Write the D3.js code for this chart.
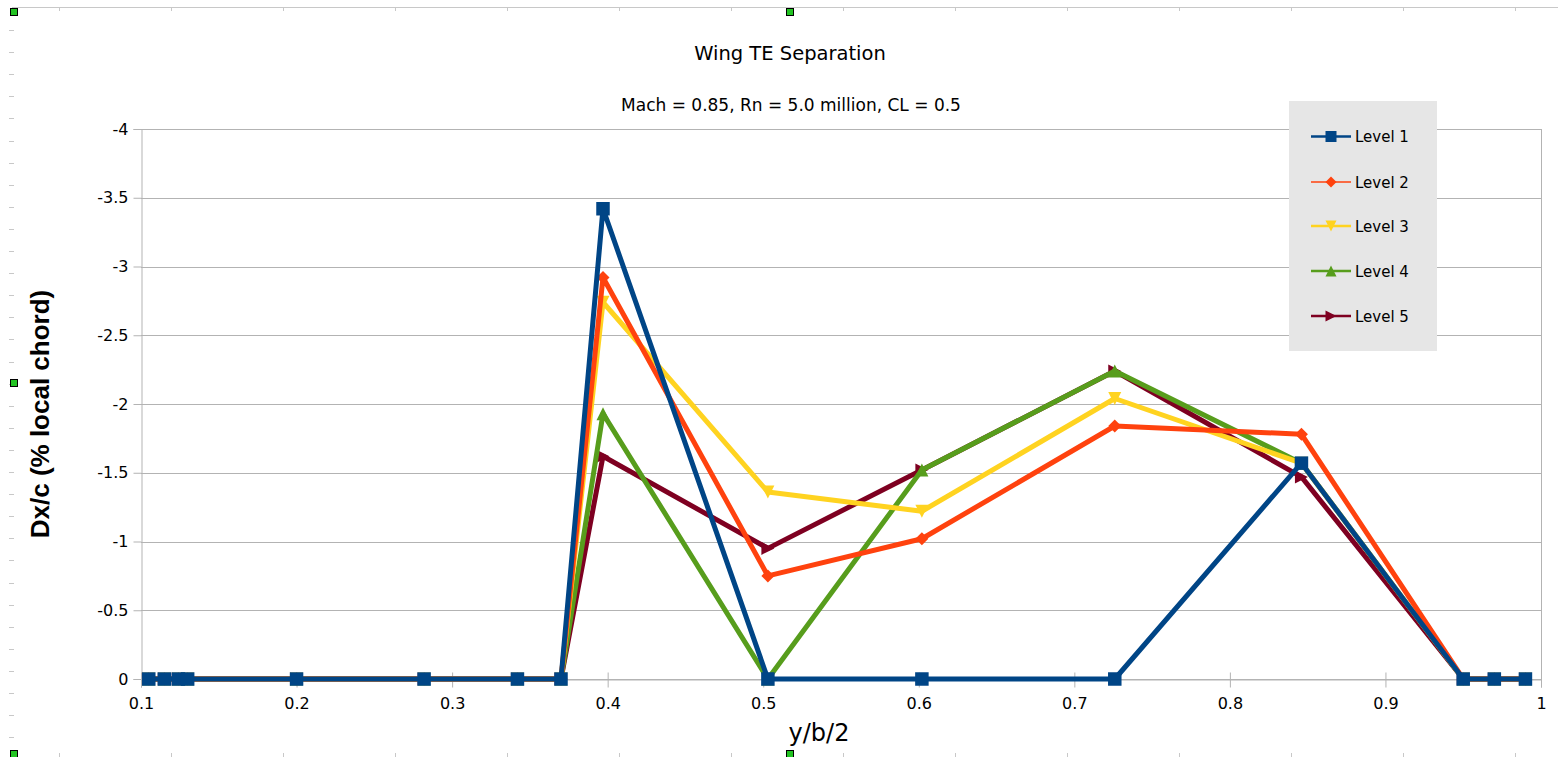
<!DOCTYPE html>
<html><head><meta charset="utf-8">
<script src="https://cdn.jsdelivr.net/npm/d3@7"></script>
<style>html,body{margin:0;padding:0;background:#fff;overflow:hidden}</style>
</head><body><svg id="c" width="1558" height="757"></svg>
<script>
// ---- data ----
const xValues = [0.105, 0.115, 0.124, 0.13, 0.2, 0.282, 0.342, 0.37, 0.397, 0.503, 0.602, 0.726, 0.846, 0.95, 0.97, 0.99];
const level1 = [0, 0, 0, 0, 0, 0, 0, 0, -3.42, 0, 0, 0, -1.57, 0, 0, 0];
const level2 = [0, 0, 0, 0, 0, 0, 0, 0, -2.92, -0.75, -1.02, -1.84, -1.78, 0, 0, 0];
const level3 = [0, 0, 0, 0, 0, 0, 0, 0, -2.74, -1.36, -1.22, -2.04, -1.57, 0, 0, 0];
const level4 = [0, 0, 0, 0, 0, 0, 0, 0, -1.93, 0, -1.52, -2.24, -1.57, 0, 0, 0];
const level5 = [0, 0, 0, 0, 0, 0, 0, 0, -1.62, -0.95, -1.52, -2.24, -1.47, 0, 0, 0];
const seriesNames = ["Level 1", "Level 2", "Level 3", "Level 4", "Level 5"];
const xTicks = [0.1, 0.2, 0.3, 0.4, 0.5, 0.6, 0.7, 0.8, 0.9, 1];
const xTickLabels = ["0.1", "0.2", "0.3", "0.4", "0.5", "0.6", "0.7", "0.8", "0.9", "1"];
const yTicks = [-4, -3.5, -3, -2.5, -2, -1.5, -1, -0.5, 0];
const yTickLabels = ["-4", "-3.5", "-3", "-2.5", "-2", "-1.5", "-1", "-0.5", "0"];
const titleText = "Wing TE Separation";
const subtitleText = "Mach = 0.85, Rn = 5.0 million, CL = 0.5";
const xTitle = "y/b/2";
const yTitle = "Dx/c (% local chord)";

// ---- styles ----
const colors = ["#004586", "#ff420e", "#ffd320", "#579d1c", "#7e0021"];
const shapes = ["square", "diamond", "down", "up", "right"];
const allValues = [level1, level2, level3, level4, level5];
const FONT = "'DejaVu Sans', sans-serif";

const svg = d3.select("#c");
const L = 141, R = 1541, T = 129, B = 679;
const x = d3.scaleLinear().domain([0.1, 1]).range([L, R]);
const y = d3.scaleLinear().domain([0, -4]).range([B, T]);

// ---- page decorations (ruler/handles) ----
const deco = svg.append("g");
deco.append("line").attr("x1", 12).attr("x2", 1558).attr("y1", 7.5).attr("y2", 7.5).attr("stroke", "#c8c8c8");
for (let k = 0; k < 14; k++) {
  const px = 59 + 112 * k + 0.5;
  deco.append("line").attr("x1", px).attr("x2", px).attr("y1", 7).attr("y2", 11).attr("stroke", "#c8c8c8");
  deco.append("line").attr("x1", px).attr("x2", px).attr("y1", 753).attr("y2", 757).attr("stroke", "#c8c8c8");
}
for (let k = 0; k < 33; k++) {
  const py = Math.round(30 + 22.1 * k) + 0.5;
  if (py > 745) break;
  deco.append("line").attr("x1", 9).attr("x2", 14).attr("y1", py).attr("y2", py).attr("stroke", "#c8c8c8");
}
[[14, 12], [790, 12], [14, 383], [14, 754], [790, 754]].forEach(([cx, cy]) => {
  deco.append("rect").attr("x", cx - 3.5).attr("y", cy - 3.5).attr("width", 7).attr("height", 7)
    .attr("fill", "#22c322").attr("stroke", "#000").attr("stroke-width", 1);
});

// ---- gridlines ----
svg.append("g").selectAll("line").data(yTicks).join("line")
  .attr("x1", L).attr("x2", R).attr("y1", d => Math.round(y(d)) + 0.5).attr("y2", d => Math.round(y(d)) + 0.5)
  .attr("stroke", "#b3b3b3").attr("stroke-width", 1);
// right border
svg.append("line").attr("x1", R + 0.5).attr("x2", R + 0.5).attr("y1", T).attr("y2", B + 7).attr("stroke", "#b3b3b3");

// ---- axes ----
const yAxis = d3.axisLeft(y).tickValues(yTicks).tickFormat((d, i) => yTickLabels[i]).tickSize(8).tickPadding(5);
const gy = svg.append("g").attr("transform", `translate(${L + 0.5},0)`).call(yAxis);
gy.select(".domain").attr("stroke", "#b3b3b3");
gy.selectAll(".tick line").attr("stroke", "#b3b3b3");
gy.selectAll(".tick text").attr("font-family", FONT).attr("font-size", 16).attr("fill", "#000");

const xAxis = d3.axisBottom(x).tickValues(xTicks).tickFormat((d, i) => xTickLabels[i]).tickSize(8).tickPadding(10);
const gx = svg.append("g").attr("transform", `translate(0,${B + 0.5})`).call(xAxis);
gx.select(".domain").attr("stroke", "#b3b3b3");
gx.selectAll(".tick line").attr("stroke", "#b3b3b3").attr("y1", -7);
gx.selectAll(".tick text").attr("font-family", FONT).attr("font-size", 16).attr("fill", "#000");

// ---- marker shapes ----
function markerPath(shape, s) {
  const h = s / 2;
  switch (shape) {
    case "square": return `M${-h},${-h}H${h}V${h}H${-h}Z`;
    case "diamond": return `M0,${-h}L${h},0L0,${h}L${-h},0Z`;
    case "down": return `M${-h},${-h}L${h},${-h}L0,${h}Z`;
    case "up": return `M${-h},${h}L${h},${h}L0,${-h}Z`;
    case "right": return `M${-h},${-h}L${h},0L${-h},${h}Z`;
  }
}

// ---- series (draw Level 5 first, Level 1 on top) ----
const line = d3.line().x(d => x(d[0])).y(d => y(d[1]));
for (let s = 4; s >= 0; s--) {
  const pts = xValues.map((xv, i) => [xv, allValues[s][i]]);
  const g = svg.append("g");
  g.append("path").attr("d", line(pts)).attr("fill", "none").attr("stroke", colors[s])
    .attr("stroke-width", 5).attr("stroke-linejoin", "round");
  const size = s === 0 ? 13.5 : 13;
  g.selectAll("path.m").data(pts).join("path").attr("class", "m")
    .attr("transform", d => `translate(${x(d[0])},${y(d[1])})`)
    .attr("d", markerPath(shapes[s], size)).attr("fill", colors[s]);
}

// ---- titles ----
svg.append("text").attr("x", 790).attr("y", 60).attr("text-anchor", "middle")
  .attr("font-family", FONT).attr("font-size", 19.5).text(titleText);
svg.append("text").attr("x", 791).attr("y", 111).attr("text-anchor", "middle")
  .attr("font-family", FONT).attr("font-size", 17).text(subtitleText);
svg.append("text").attr("x", 819).attr("y", 741).attr("text-anchor", "middle")
  .attr("font-family", FONT).attr("font-size", 24).text(xTitle);
svg.append("text").attr("transform", "translate(49,414) rotate(-90)").attr("text-anchor", "middle")
  .attr("font-family", "'Liberation Sans', Arial, sans-serif").attr("font-weight", "bold").attr("font-size", 26).text(yTitle);

// ---- legend ----
const lg = svg.append("g");
lg.append("rect").attr("x", 1289).attr("y", 101).attr("width", 148).attr("height", 250).attr("fill", "#e6e6e6");
const rowY = [136.5, 182, 226, 271, 316];
seriesNames.forEach((name, s) => {
  const yy = rowY[s];
  lg.append("line").attr("x1", 1311).attr("x2", 1351).attr("y1", yy).attr("y2", yy)
    .attr("stroke", colors[s]).attr("stroke-width", s === 1 ? 1.6 : 2.4);
  lg.append("path").attr("transform", `translate(1331,${yy})`).attr("d", markerPath(shapes[s], 11)).attr("fill", colors[s]);
  lg.append("text").attr("x", 1355).attr("y", yy + 5.5).attr("font-family", FONT).attr("font-size", 15).text(name);
});
</script></body></html>
